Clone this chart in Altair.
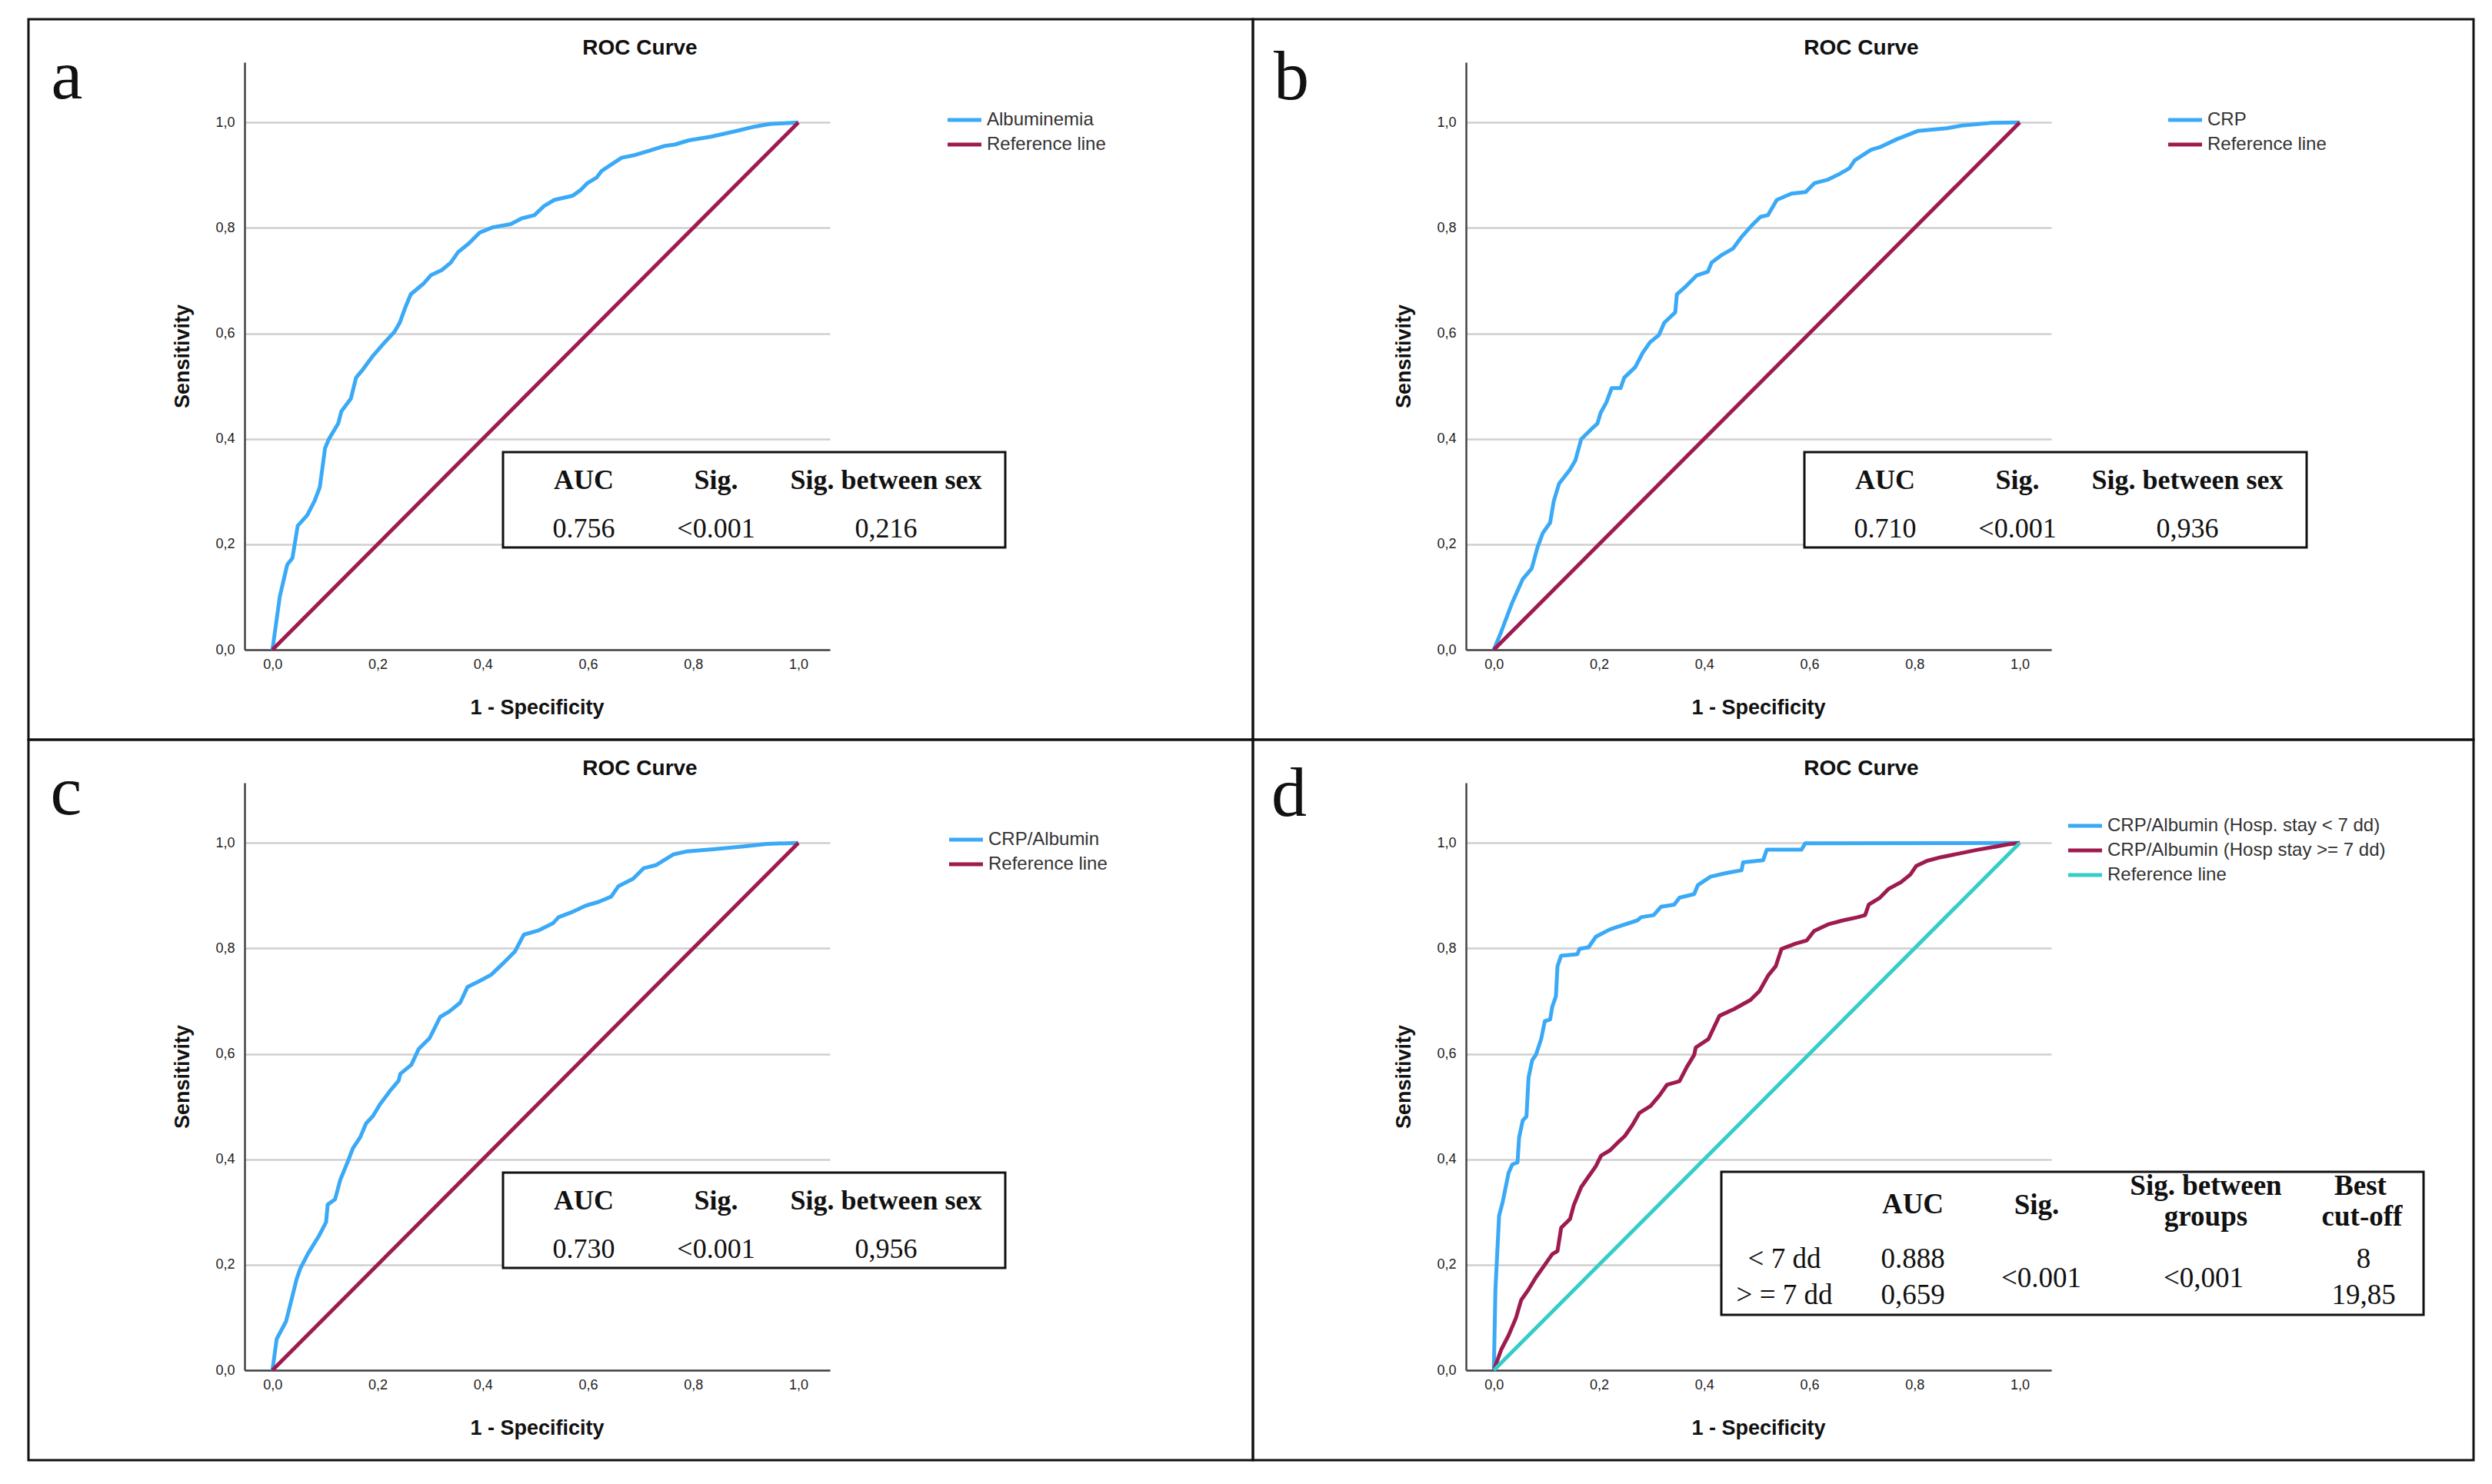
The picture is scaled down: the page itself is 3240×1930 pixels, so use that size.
import altair as alt
import pandas as pd

# ---------------- data ----------------
a_fpr = [0.0, 0.014, 0.028, 0.038, 0.048, 0.066, 0.080, 0.090, 0.100, 0.107, 0.125, 0.131, 0.149, 0.159,
         0.170, 0.190, 0.211, 0.232, 0.242, 0.253, 0.263, 0.287, 0.301, 0.322, 0.339, 0.353, 0.374, 0.394,
         0.419, 0.453, 0.474, 0.498, 0.516, 0.536, 0.571, 0.585, 0.599, 0.616, 0.626, 0.644, 0.664, 0.689,
         0.716, 0.744, 0.765, 0.792, 0.834, 0.875, 0.917, 0.945, 1.0]
a_tpr = [0.0, 0.101, 0.161, 0.174, 0.235, 0.255, 0.282, 0.308, 0.382, 0.399, 0.429, 0.452, 0.476, 0.516,
         0.529, 0.556, 0.580, 0.603, 0.620, 0.650, 0.674, 0.694, 0.710, 0.720, 0.734, 0.754, 0.771, 0.791,
         0.801, 0.807, 0.818, 0.824, 0.841, 0.853, 0.861, 0.871, 0.885, 0.895, 0.908, 0.920, 0.933, 0.938,
         0.946, 0.955, 0.958, 0.966, 0.973, 0.982, 0.992, 0.997, 1.0]

b_fpr = [0.0, 0.014, 0.034, 0.055, 0.072, 0.083, 0.093, 0.107, 0.114, 0.124, 0.145, 0.155, 0.166, 0.186,
         0.197, 0.203, 0.214, 0.224, 0.241, 0.248, 0.269, 0.283, 0.297, 0.314, 0.324, 0.345, 0.348, 0.366,
         0.386, 0.407, 0.414, 0.434, 0.455, 0.472, 0.490, 0.507, 0.521, 0.538, 0.566, 0.593, 0.610, 0.634,
         0.655, 0.676, 0.686, 0.717, 0.734, 0.766, 0.807, 0.862, 0.890, 0.945, 1.0]
b_tpr = [0.0, 0.034, 0.087, 0.134, 0.154, 0.194, 0.221, 0.241, 0.282, 0.315, 0.342, 0.359, 0.399, 0.419,
         0.429, 0.449, 0.469, 0.496, 0.496, 0.516, 0.536, 0.563, 0.583, 0.597, 0.620, 0.640, 0.674, 0.690,
         0.710, 0.717, 0.734, 0.749, 0.761, 0.784, 0.804, 0.821, 0.824, 0.853, 0.865, 0.868, 0.885, 0.891,
         0.901, 0.913, 0.928, 0.948, 0.953, 0.968, 0.984, 0.989, 0.994, 0.999, 1.0]

c_fpr = [0.0, 0.008, 0.026, 0.036, 0.046, 0.053, 0.067, 0.088, 0.102, 0.105, 0.119, 0.129, 0.143, 0.153,
         0.167, 0.178, 0.191, 0.205, 0.223, 0.240, 0.243, 0.264, 0.278, 0.299, 0.319, 0.336, 0.357, 0.371,
         0.392, 0.416, 0.437, 0.461, 0.478, 0.506, 0.534, 0.544, 0.568, 0.596, 0.620, 0.644, 0.658, 0.686,
         0.706, 0.730, 0.762, 0.789, 0.838, 0.893, 0.941, 1.0]
c_tpr = [0.0, 0.059, 0.093, 0.133, 0.173, 0.193, 0.220, 0.254, 0.281, 0.314, 0.324, 0.361, 0.395, 0.421,
         0.442, 0.468, 0.482, 0.505, 0.529, 0.549, 0.562, 0.579, 0.609, 0.630, 0.670, 0.680, 0.697, 0.727,
         0.737, 0.750, 0.770, 0.794, 0.826, 0.834, 0.848, 0.859, 0.868, 0.881, 0.888, 0.898, 0.918, 0.932,
         0.952, 0.958, 0.978, 0.984, 0.988, 0.993, 0.998, 1.0]

d1_fpr = [0.0, 0.003, 0.007, 0.010, 0.017, 0.028, 0.035, 0.045, 0.048, 0.055, 0.062, 0.066, 0.073, 0.080,
          0.090, 0.097, 0.107, 0.111, 0.118, 0.121, 0.128, 0.159, 0.163, 0.180, 0.194, 0.221, 0.242, 0.273,
          0.280, 0.304, 0.318, 0.343, 0.353, 0.381, 0.388, 0.412, 0.443, 0.471, 0.474, 0.512, 0.519, 0.585,
          0.592, 1.0]
d1_tpr = [0.0, 0.153, 0.233, 0.293, 0.320, 0.374, 0.390, 0.394, 0.441, 0.474, 0.481, 0.555, 0.588, 0.598,
          0.628, 0.662, 0.665, 0.689, 0.709, 0.766, 0.786, 0.789, 0.799, 0.802, 0.822, 0.836, 0.843, 0.853,
          0.859, 0.863, 0.879, 0.883, 0.896, 0.903, 0.920, 0.936, 0.943, 0.948, 0.963, 0.967, 0.987, 0.987,
          0.999, 1.0]

d2_fpr = [0.0, 0.014, 0.028, 0.042, 0.052, 0.066, 0.080, 0.097, 0.111, 0.121, 0.128, 0.145, 0.152, 0.166,
          0.180, 0.194, 0.204, 0.221, 0.235, 0.249, 0.263, 0.277, 0.298, 0.315, 0.329, 0.353, 0.367, 0.381,
          0.384, 0.408, 0.429, 0.457, 0.488, 0.505, 0.522, 0.536, 0.547, 0.574, 0.595, 0.609, 0.637, 0.664,
          0.692, 0.706, 0.713, 0.734, 0.751, 0.775, 0.792, 0.803, 0.824, 0.851, 0.886, 0.920, 0.955, 0.976, 1.0]
d2_tpr = [0.0, 0.039, 0.066, 0.099, 0.133, 0.153, 0.176, 0.200, 0.220, 0.226, 0.270, 0.287, 0.313, 0.347,
          0.367, 0.387, 0.407, 0.417, 0.431, 0.444, 0.464, 0.488, 0.501, 0.521, 0.541, 0.548, 0.575, 0.598,
          0.612, 0.628, 0.672, 0.685, 0.702, 0.719, 0.749, 0.766, 0.799, 0.809, 0.815, 0.833, 0.846, 0.853,
          0.859, 0.863, 0.883, 0.896, 0.913, 0.926, 0.940, 0.956, 0.966, 0.973, 0.980, 0.987, 0.993, 0.997, 1.0]

ref_fpr = [0.0, 1.0]
ref_tpr = [0.0, 1.0]

panel_letters = ["a", "b", "c", "d"]
chart_title = "ROC Curve"
x_title = "1 - Specificity"
y_title = "Sensitivity"
tick_values = [0.0, 0.2, 0.4, 0.6, 0.8, 1.0]

series_a = ["Albuminemia", "Reference line"]
series_b = ["CRP", "Reference line"]
series_c = ["CRP/Albumin", "Reference line"]
series_d = ["CRP/Albumin (Hosp. stay < 7 dd)", "CRP/Albumin (Hosp stay >= 7 dd)", "Reference line"]

tab_header = ["AUC", "Sig.", "Sig. between sex"]
tab_a_vals = ["0.756", "<0.001", "0,216"]
tab_b_vals = ["0.710", "<0.001", "0,936"]
tab_c_vals = ["0.730", "<0.001", "0,956"]

tab_d_head_top = ["Sig. between", "Best"]
tab_d_head_bot = ["groups", "cut-off"]
tab_d_head_mid = ["AUC", "Sig."]
tab_d_groups = ["< 7 dd", "> = 7 dd"]
tab_d_auc = ["0.888", "0,659"]
tab_d_sig = "<0.001"
tab_d_sig_between = "<0,001"
tab_d_cutoff = ["8", "19,85"]

# ---------------- styles / layout ----------------
BLUE = "#3aa9f6"
MAROON = "#9e1b4f"
TEAL = "#35cdc8"
W, H = 761, 764
XDOM = [-0.053, 1.06]
YDOM = [0.0, 1.114]
SANS = "Liberation Sans, Arial, sans-serif"
NARROW = "Liberation Sans Narrow, Liberation Sans, Arial, sans-serif"
SERIF = "Liberation Serif, Times New Roman, serif"

dummy = pd.DataFrame({"k": [0]})


def txt(s, x, y, size, font=SANS, bold=False, align="center", baseline="alphabetic", color="#111111"):
    return alt.Chart(dummy).mark_text(
        text=s, font=font, fontSize=size, fontWeight="bold" if bold else "normal",
        align=align, baseline=baseline, color=color,
    ).encode(x=alt.value(x), y=alt.value(y))


def box(x, x2, y, y2, sw=3, fill_op=0.0):
    return alt.Chart(dummy).mark_rect(
        fill="#ffffff", fillOpacity=fill_op, stroke="#111111", strokeWidth=sw,
    ).encode(x=alt.value(x), x2=alt.value(x2), y=alt.value(y), y2=alt.value(y2))


def hline(x, x2, y, color, sw=5):
    return alt.Chart(dummy).mark_rule(color=color, strokeWidth=sw).encode(
        x=alt.value(x), x2=alt.value(x2), y=alt.value(y))


label_expr = "replace(format(datum.value, '.1f'), '.', ',')"

x_axis = alt.Axis(
    values=tick_values, labelExpr=label_expr, grid=False, ticks=False, tickSize=0,
    domainColor="#444444", domainWidth=2.5, labelFont=NARROW, labelFontSize=18,
    labelColor="#222222", labelPadding=10, labelFlush=False,
    title=x_title, titleFont=SANS, titleFontSize=27, titleFontWeight="bold", titleColor="#111111",
    titleX=380, titleY=75, titleAlign="center", titleBaseline="middle",
)
y_axis = alt.Axis(
    values=tick_values, labelExpr=label_expr, grid=True, gridColor="#cfcfcf", gridWidth=2.5,
    ticks=False, tickSize=0, domainColor="#444444", domainWidth=2.5, labelFont=NARROW,
    labelFontSize=18, labelColor="#222222", labelPadding=13, labelFlush=False,
    title=y_title, titleFont=SANS, titleFontSize=27, titleFontWeight="bold", titleColor="#111111",
    titleX=-81, titleY=382, titleAngle=270, titleAlign="center", titleBaseline="middle",
)


def curves(names, fprs, tprs, colors):
    rows = []
    for n, f, t in zip(names, fprs, tprs):
        for i, (fx, ty) in enumerate(zip(f, t)):
            rows.append({"series": n, "fpr": fx, "tpr": ty, "i": i})
    df = pd.DataFrame(rows)
    return alt.Chart(df).mark_line(strokeWidth=5, strokeJoin="round").encode(
        x=alt.X("fpr:Q", scale=alt.Scale(domain=XDOM, nice=False, zero=False), axis=x_axis),
        y=alt.Y("tpr:Q", scale=alt.Scale(domain=YDOM, nice=False, zero=False), axis=y_axis),
        color=alt.Color("series:N", scale=alt.Scale(domain=names, range=colors), legend=None),
        detail="series:N",
        order="i:Q",
    )


def legend(names, colors, x0, y0, step=32):
    layers = []
    for k, (n, c) in enumerate(zip(names, colors)):
        y = y0 + k * step
        layers.append(hline(x0, x0 + 44, y, c))
        layers.append(txt(n, x0 + 51, y, 24, align="left", baseline="middle", color="#333333"))
    return layers


def simple_table(x0, vals):
    layers = [box(x0, x0 + 653, 507, 631, sw=3, fill_op=1.0)]
    offs = [105, 277, 498]
    for h, v, o in zip(tab_header, vals, offs):
        layers.append(txt(h, x0 + o, 555, 36, font=SERIF, bold=True))
        layers.append(txt(v, x0 + o, 618, 36, font=SERIF))
    return layers


def panel(letter, border_x, curve_layer, legend_layers, table_layers, letter_x, letter_y):
    layers = [box(border_x[0], border_x[1], -56, 881, sw=3, fill_op=0.0), curve_layer]
    layers += legend_layers
    layers += table_layers
    layers.append(txt(chart_title, 514, -10, 28, bold=True))
    layers.append(txt(letter, letter_x, letter_y, 92, font=SERIF))
    return alt.layer(*layers).properties(width=W, height=H)


colors_2 = [BLUE, MAROON]
colors_3 = [BLUE, MAROON, TEAL]

pa = panel(panel_letters[0], (-281, 1311),
           curves(series_a, [a_fpr, ref_fpr], [a_tpr, ref_tpr], colors_2),
           legend(series_a, colors_2, 914, 75), simple_table(336, tab_a_vals), -231, 47)
pb = panel(panel_letters[1], (-277, 1310),
           curves(series_b, [b_fpr, ref_fpr], [b_tpr, ref_tpr], colors_2),
           legend(series_b, colors_2, 913, 75), simple_table(440, tab_b_vals), -227, 48)
pc = panel(panel_letters[2], (-281, 1311),
           curves(series_c, [c_fpr, ref_fpr], [c_tpr, ref_tpr], colors_2),
           legend(series_c, colors_2, 916, 74), simple_table(336, tab_c_vals), -232, 41)

d_table = [box(332, 1245, 506, 692, sw=3, fill_op=1.0)]
d_table.append(txt(tab_d_head_mid[0], 581, 560, 37, font=SERIF, bold=True))
d_table.append(txt(tab_d_head_mid[1], 742, 561, 37, font=SERIF, bold=True))
d_table.append(txt(tab_d_head_top[0], 962, 536, 37, font=SERIF, bold=True))
d_table.append(txt(tab_d_head_bot[0], 962, 576, 37, font=SERIF, bold=True))
d_table.append(txt(tab_d_head_top[1], 1163, 536, 37, font=SERIF, bold=True))
d_table.append(txt(tab_d_head_bot[1], 1165, 576, 37, font=SERIF, bold=True))
for k, yy in enumerate([631, 678]):
    d_table.append(txt(tab_d_groups[k], 414, yy, 37, font=SERIF))
    d_table.append(txt(tab_d_auc[k], 581, yy, 37, font=SERIF))
    d_table.append(txt(tab_d_cutoff[k], 1167, yy, 37, font=SERIF))
d_table.append(txt(tab_d_sig, 748, 656, 37, font=SERIF))
d_table.append(txt(tab_d_sig_between, 959, 656, 37, font=SERIF))

pd_ = panel(panel_letters[3], (-277, 1310),
            curves(series_d, [d1_fpr, d2_fpr, ref_fpr], [d1_tpr, d2_tpr, ref_tpr], colors_3),
            legend(series_d, colors_3, 783, 56), d_table, -230, 43)

chart = alt.concat(
    pa, pb, pc, pd_, columns=2, spacing={"row": 173, "column": 827}, bounds="flush",
).resolve_scale(
    color="independent",
).properties(
    padding={"left": 27, "top": 15, "right": 5, "bottom": 5},
    background="#ffffff",
).configure_view(stroke=None)

chart.save("out.html", embed_options={"renderer": "svg", "actions": False})
